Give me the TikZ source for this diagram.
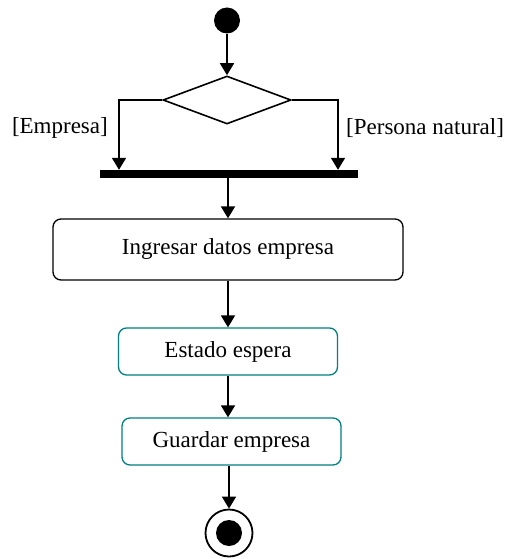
\documentclass[tikz,border=0pt]{standalone}
\usepackage{fontspec}
\setmainfont{Liberation Serif}
\usetikzlibrary{arrows.meta,shapes.geometric}
\definecolor{tealline}{RGB}{0,128,128}

\begin{document}
\begin{tikzpicture}[x=1pt,y=-1pt,
    font=\fontsize{23}{27}\selectfont,
    flow/.style={line width=1.8pt,-{Triangle[width=14pt,length=12pt]}},
    act/.style={draw,rounded corners=8pt,line width=1.3pt,inner sep=0pt},
    wait/.style={act,draw=tealline}]
  \useasboundingbox (0,0) rectangle (505,559);
  % start and decision
  \node (start) [circle,fill=black,minimum size=26pt,inner sep=0pt] at (227,20.5) {};
  \node (dec) [diamond,draw,line width=1.6pt,minimum width=128pt,minimum height=48pt,inner sep=0pt] at (227,100) {};
  \node (bar) [fill=black,minimum width=258pt,minimum height=8pt,inner sep=0pt] at (229,174) {};
  \coordinate (lx) at (119,100);
  \coordinate (rx) at (338,100);
  \node (emp) [anchor=east,inner sep=0pt] at (108,128) {[Empresa]};
  \node (per) [anchor=west,inner sep=0pt] at (346,128) {[Persona natural]};
  % activities
  \node (ing) [act,minimum width=350pt,minimum height=61pt] at (228,249.5) {Ingresar datos empresa};
  \node (esp) [wait,minimum width=219pt,minimum height=47pt] at (228,351.5) {Estado espera};
  \node (gua) [wait,minimum width=219pt,minimum height=47pt] at (231.5,441.5) {Guardar empresa};
  % end
  \node (fin) [circle,draw,line width=1.8pt,minimum size=47pt,inner sep=0pt] at (229,533) {};
  \node (fin2) [circle,fill=black,minimum size=26pt,inner sep=0pt] at (fin) {};
  % flows
  \draw[flow] (start) -- (dec);
  \draw[flow] (dec.west) -| (bar.north -| lx);
  \draw[flow] (dec.east) -| (bar.north -| rx);
  \draw[flow] (bar.south -| ing.north) -- (ing);
  \draw[flow] (ing.south -| esp.north) -- (esp);
  \draw[flow] (esp.south) -- (esp.south |- gua.north);
  \draw[flow] (gua.south -| fin.north) -- (fin);
\end{tikzpicture}
\end{document}
